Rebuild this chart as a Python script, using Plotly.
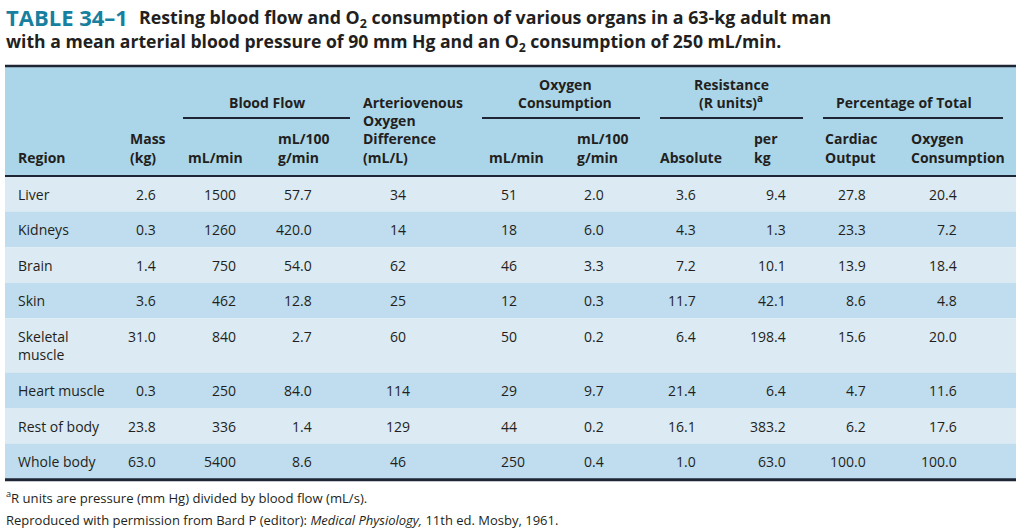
import plotly.graph_objects as go

# ---------------- data ----------------
regions = ["Liver", "Kidneys", "Brain", "Skin", "Skeletal<br>muscle",
           "Heart muscle", "Rest of body", "Whole body"]
mass_kg = [2.6, 0.3, 1.4, 3.6, 31.0, 0.3, 23.8, 63.0]
bf_ml_min = [1500, 1260, 750, 462, 840, 250, 336, 5400]
bf_ml_100g = [57.7, 420.0, 54.0, 12.8, 2.7, 84.0, 1.4, 8.6]
av_o2_diff = [34, 14, 62, 25, 60, 114, 129, 46]
o2_ml_min = [51, 18, 46, 12, 50, 29, 44, 250]
o2_ml_100g = [2.0, 6.0, 3.3, 0.3, 0.2, 9.7, 0.2, 0.4]
res_abs = [3.6, 4.3, 7.2, 11.7, 6.4, 21.4, 16.1, 1.0]
res_per_kg = [9.4, 1.3, 10.1, 42.1, 198.4, 6.4, 383.2, 63.0]
pct_cardiac = [27.8, 23.3, 13.9, 8.6, 15.6, 4.7, 6.2, 100.0]
pct_oxygen = [20.4, 7.2, 18.4, 4.8, 20.0, 11.6, 17.6, 100.0]

title_tag = "TABLE 34\u20131"
title_l1 = "Resting blood flow and O<sub>2</sub> consumption of various organs in a 63-kg adult man"
title_l2 = "with a mean arterial blood pressure of 90 mm Hg and an O<sub>2</sub> consumption of 250 mL/min."
foot1 = "<sup>a</sup>R units are pressure (mm Hg) divided by blood flow (mL/s)."
foot2 = "Reproduced with permission from Bard P (editor): <i>Medical Physiology,</i> 11th ed. Mosby, 1961."

# ---------------- style ----------------
FONT = "Open Sans"
TXT = "#231f20"
TEAL = "#17809f"
RULE = "#1e2535"
HEAD_BG = "#abd6e9"
ROW_LIGHT = "#dceaf3"
ROW_DARK = "#bfddee"

W, H = 1024, 530
X0, X1 = 5, 1016

fig = go.Figure()
fig.update_layout(
    width=W, height=H, margin=dict(l=0, r=0, t=0, b=0),
    paper_bgcolor="white", plot_bgcolor="white", showlegend=False,
    xaxis=dict(range=[0, W], visible=False, fixedrange=True),
    yaxis=dict(range=[H, 0], visible=False, fixedrange=True),
)

shapes = []
ann = []


def text(x, y, s, anchor="left", size=14, bold=False, color=TXT):
    if bold:
        s = "<b>" + s + "</b>"
    ann.append(dict(x=x, y=y, xref="x", yref="y", text=s, showarrow=False,
                    xanchor=anchor, yanchor="middle", borderpad=0,
                    font=dict(family=FONT, size=size, color=color)))


def rect(y0, y1, color):
    shapes.append(dict(type="rect", xref="x", yref="y", x0=X0, x1=X1, y0=y0, y1=y1,
                       fillcolor=color, line=dict(width=0), layer="below"))


def hline(xa, xb, y, w, color=RULE):
    shapes.append(dict(type="line", xref="x", yref="y", x0=xa, x1=xb, y0=y, y1=y,
                       line=dict(color=color, width=w)))


# ---------------- title ----------------
text(5, 17, title_tag, size=22, bold=True, color=TEAL)
text(138, 18, title_l1, size=17.8, bold=True)
text(5, 42, title_l2, size=17.6, bold=True)

# ---------------- header ----------------
HEAD_TOP, HEAD_BOT = 66, 176
rect(HEAD_TOP, HEAD_BOT, HEAD_BG)

Y_UP = [84, 102]

groups = [
    ("Blood Flow", 267, [102], (183, 350)),
    ("Oxygen<br>Consumption", 565, Y_UP, (482, 640)),
    ("Resistance<br>(R units)<sup>a</sup>", 731, Y_UP, (660, 803)),
    ("Percentage of Total", 904, [102], (823, 1003)),
]
for label, cx, ys, (ua, ub) in groups:
    for line, yy in zip(label.split("<br>"), ys):
        text(cx, yy, line, anchor="center", bold=True)
    hline(ua, ub, 118, 2)

col_heads = [
    ("Region", 17),
    ("Mass<br>(kg)", 129),
    ("mL/min", 187),
    ("mL/100<br>g/min", 277),
    ("Arteriovenous<br>Oxygen<br>Difference<br>(mL/L)", 362),
    ("mL/min", 488),
    ("mL/100<br>g/min", 576),
    ("Absolute", 659),
    ("per<br>kg", 753),
    ("Cardiac<br>Output", 824),
    ("Oxygen<br>Consumption", 910),
]
for label, hx in col_heads:
    lines = label.split("<br>")
    n = len(lines)
    for i, line in enumerate(lines):
        yy = 157 - 18.2 * (n - 1 - i)
        text(hx, yy, line, bold=True)

# ---------------- body ----------------
cols = [
    (mass_kg, "{:.1f}", 157, "right"),
    (bf_ml_min, "{:d}", 237, "right"),
    (bf_ml_100g, "{:.1f}", 313, "right"),
    (av_o2_diff, "{:d}", 398, "center"),
    (o2_ml_min, "{:d}", 500, "left"),
    (o2_ml_100g, "{:.1f}", 583, "left"),
    (res_abs, "{:.1f}", 697, "right"),
    (res_per_kg, "{:.1f}", 787, "right"),
    (pct_cardiac, "{:.1f}", 867, "right"),
    (pct_oxygen, "{:.1f}", 958, "right"),
]

y = HEAD_BOT
for r, reg in enumerate(regions):
    lines = reg.split("<br>")
    h = 35.6 + 18.4 * (len(lines) - 1)
    rect(y, y + h, ROW_LIGHT if r % 2 == 0 else ROW_DARK)
    ty = y + 18
    for i, line in enumerate(lines):
        text(17, ty + 18.2 * i, line)
    for vals, fmt, cx, anc in cols:
        text(cx, ty, fmt.format(vals[r]), anchor=anc)
    y += h
BODY_BOT = y

# rules
hline(X0, X1, 66, 2.5)
hline(X0, X1, HEAD_BOT, 2)
hline(X0, X1, BODY_BOT + 0.5, 3)

# ---------------- footnotes ----------------
text(5, 497, foot1, size=13.1)
text(5, 520, foot2, size=13)

fig.update_layout(shapes=shapes, annotations=ann)
fig.write_html("out.html", config={"displayModeBar": False},
               post_script="document.body.style.margin='0';document.body.style.overflow='hidden';")
